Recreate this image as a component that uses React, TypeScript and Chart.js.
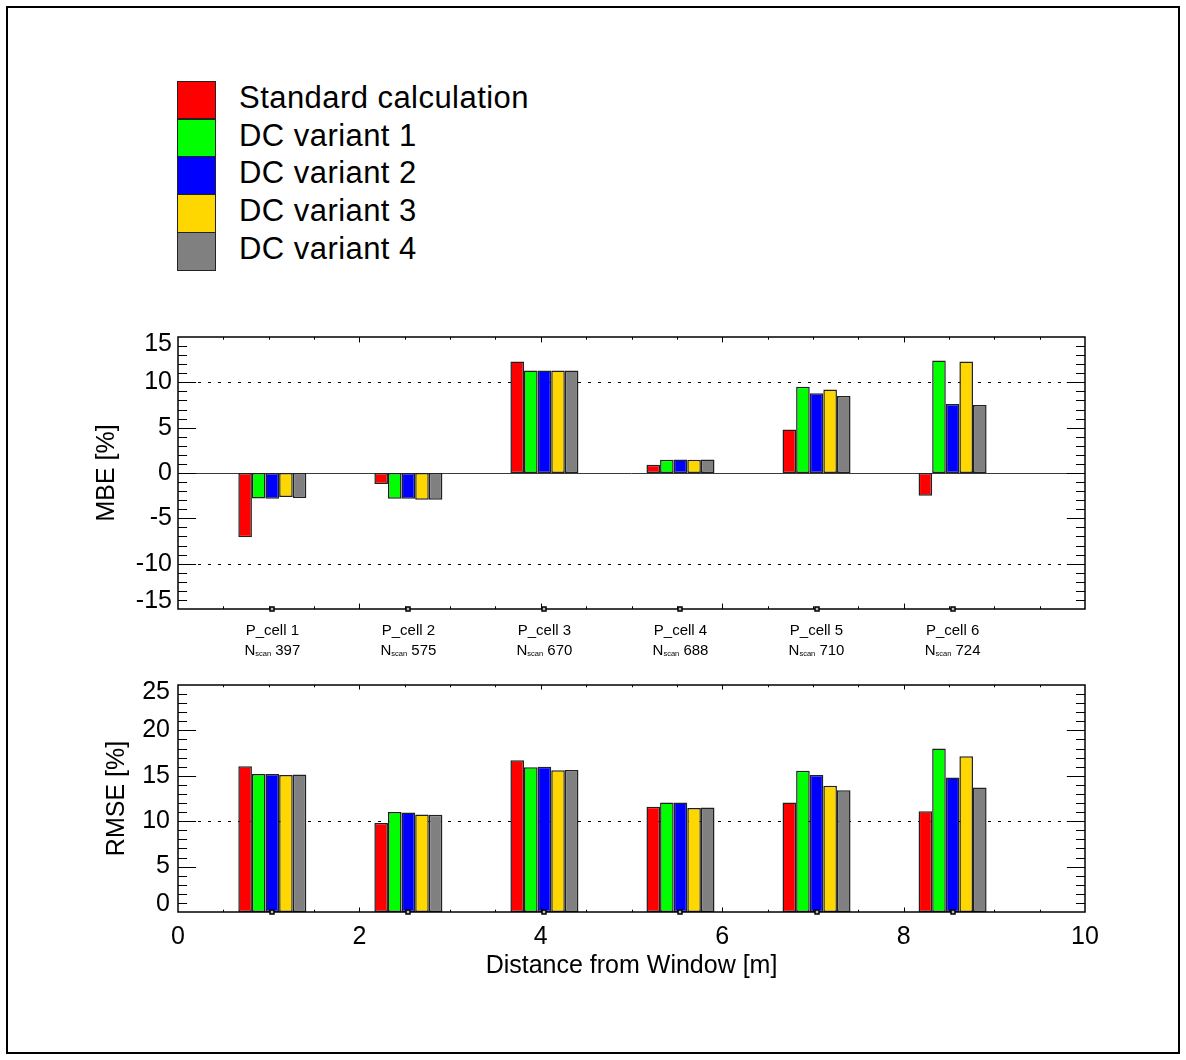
import React, { useEffect, useRef } from 'react';
import { Chart, registerables } from 'chart.js';

Chart.register(...registerables);

const FONT = '"Liberation Sans", Arial, Helvetica, sans-serif';
Chart.defaults.font.family = FONT;
Chart.defaults.color = '#000';

// ---------------- data ----------------
const seriesNames = ['Standard calculation', 'DC variant 1', 'DC variant 2', 'DC variant 3', 'DC variant 4'];
const seriesColors = ['#FF0000', '#00FF00', '#0000FF', '#FFD700', '#808080'];

const cellLabels = ['P_cell 1', 'P_cell 2', 'P_cell 3', 'P_cell 4', 'P_cell 5', 'P_cell 6'];
const scanCounts = [397, 575, 670, 688, 710, 724];
const cellDistances = [1.04, 2.54, 4.04, 5.54, 7.04, 8.54];

const mbeStandard = [-7.1, -1.2, 12.3, 0.9, 4.8, -2.5];
const mbeVariant1 = [-2.8, -2.85, 11.3, 1.45, 9.5, 12.4];
const mbeVariant2 = [-2.85, -2.85, 11.3, 1.5, 8.8, 7.6];
const mbeVariant3 = [-2.65, -2.95, 11.3, 1.45, 9.2, 12.3];
const mbeVariant4 = [-2.75, -2.95, 11.3, 1.5, 8.5, 7.5];

const rmseStandard = [16.05, 9.8, 16.7, 11.6, 12.05, 11.1];
const rmseVariant1 = [15.2, 11.0, 15.95, 12.05, 15.55, 18.0];
const rmseVariant2 = [15.2, 10.95, 16.0, 12.05, 15.1, 14.8];
const rmseVariant3 = [15.1, 10.75, 15.6, 11.45, 13.9, 17.15];
const rmseVariant4 = [15.15, 10.7, 15.65, 11.5, 13.4, 13.7];

const distanceTicks = [0, 2, 4, 6, 8, 10];
const mbeTicks = [-15, -10, -5, 0, 5, 10, 15];
const rmseTicks = [0, 5, 10, 15, 20, 25];
const mbeRefLines = [10, -10];
const rmseRefLines = [10];

// ---------------- helpers ----------------
function buildDatasets(series: number[][]) {
  return series.map((vals, s) => ({
    label: seriesNames[s],
    data: cellDistances.map((d, i) => ({ x: d, y: vals[i] })),
    backgroundColor: seriesColors[s],
    borderColor: '#202020',
    borderWidth: 1.5,
    borderSkipped: false,
    categoryPercentage: 0.5,
    barPercentage: 1,
  }));
}

type FrameOpts = {
  refLines: number[];
  zeroLine: boolean;
  scanRow: boolean;
};

function framePlugin(opts: FrameOpts) {
  return {
    id: 'idlFrame',
    beforeDatasetsDraw(chart: any) {
      const { ctx, chartArea: a, scales } = chart;
      const y = scales.y;
      ctx.save();
      ctx.lineWidth = 1;
      ctx.strokeStyle = '#000';
      ctx.setLineDash([3, 7]);
      opts.refLines.forEach((v) => {
        const py = Math.round(y.getPixelForValue(v)) + 0.5;
        ctx.beginPath();
        ctx.moveTo(a.left, py);
        ctx.lineTo(a.right, py);
        ctx.stroke();
      });
      ctx.setLineDash([]);
      if (opts.zeroLine) {
        const py = Math.round(y.getPixelForValue(0)) + 0.5;
        ctx.strokeStyle = '#3a3a3a';
        ctx.beginPath();
        ctx.moveTo(a.left, py);
        ctx.lineTo(a.right, py);
        ctx.stroke();
      }
      ctx.restore();
    },
    afterDatasetsDraw(chart: any) {
      const { ctx, chartArea: a, scales } = chart;
      const x = scales.x;
      const y = scales.y;
      const w = a.right - a.left;
      const h = a.bottom - a.top;
      ctx.save();
      ctx.strokeStyle = '#000';
      ctx.lineWidth = 1;
      const seg = (x1: number, y1: number, x2: number, y2: number) => {
        ctx.beginPath();
        ctx.moveTo(x1, y1);
        ctx.lineTo(x2, y2);
        ctx.stroke();
      };
      // x ticks: minor every 0.5, major every 2
      const nx = Math.round((x.max - x.min) / 0.5);
      for (let k = 1; k < nx; k++) {
        const v = x.min + k * 0.5;
        const px = Math.round(x.getPixelForValue(v)) + 0.5;
        const len = (k % 4 === 0 ? 0.02 : 0.01) * h;
        seg(px, a.bottom, px, a.bottom - len);
        seg(px, a.top, px, a.top + len);
      }
      // y ticks: minor every 1, major every 5
      const ny = Math.round(y.max - y.min);
      for (let k = 1; k < ny; k++) {
        const v = y.min + k;
        const py = Math.round(y.getPixelForValue(v)) + 0.5;
        const len = (Math.round(v) % 5 === 0 ? 0.02 : 0.01) * w;
        seg(a.left, py, a.left + len, py);
        seg(a.right, py, a.right - len, py);
      }
      // frame
      ctx.lineWidth = 1.5;
      ctx.strokeRect(a.left, a.top, w, h);
      // cell markers
      ctx.lineWidth = 1.5;
      cellDistances.forEach((d) => {
        const px = Math.round(x.getPixelForValue(d));
        ctx.fillStyle = '#bbb';
        ctx.fillRect(px - 2, a.bottom - 2, 4, 4);
        ctx.strokeRect(px - 2, a.bottom - 2, 4, 4);
      });
      // N_scan row
      if (opts.scanRow) {
        ctx.fillStyle = '#000';
        ctx.textAlign = 'left';
        ctx.textBaseline = 'alphabetic';
        const big = `15px ${FONT}`;
        const small = `7.5px ${FONT}`;
        const by = a.bottom + 46;
        cellDistances.forEach((d, i) => {
          const tail = ' ' + scanCounts[i];
          ctx.font = big;
          const wN = ctx.measureText('N').width;
          const wT = ctx.measureText(tail).width;
          ctx.font = small;
          const wS = ctx.measureText('scan').width;
          let sx = x.getPixelForValue(d) - (wN + wS + wT) / 2;
          ctx.font = big;
          ctx.fillText('N', sx, by);
          sx += wN;
          ctx.font = small;
          ctx.fillText('scan', sx, by + 1);
          sx += wS;
          ctx.font = big;
          ctx.fillText(tail, sx, by);
        });
      }
      ctx.restore();
    },
  };
}

type PanelSpec = {
  series: number[][];
  yMin: number;
  yMax: number;
  yTicks: number[];
  yTitle: string;
  yTitlePad: number;
  yTickPad: number;
  refLines: number[];
  zeroLine: boolean;
  isTop: boolean;
  padTop: number;
  xHeight: number;
};

function makeConfig(p: PanelSpec): any {
  const zeroPad = (s: any) => {
    s.paddingTop = 0;
    s.paddingBottom = 0;
    s.paddingLeft = 0;
    s.paddingRight = 0;
  };
  const xAxis: any = p.isTop
    ? {
        type: 'linear',
        min: 0,
        max: 10,
        offset: false,
        grid: { display: false, drawTicks: false },
        border: { display: false },
        afterBuildTicks: (s: any) => {
          s.ticks = cellDistances.map((v) => ({ value: v }));
        },
        ticks: {
          autoSkip: false,
          maxRotation: 0,
          minRotation: 0,
          padding: 13,
          font: { size: 15 },
          color: '#000',
          callback: (_v: any, i: number) => cellLabels[i],
        },
        afterFit: (s: any) => {
          s.height = p.xHeight;
          zeroPad(s);
        },
      }
    : {
        type: 'linear',
        min: 0,
        max: 10,
        offset: false,
        grid: { display: false, drawTicks: false },
        border: { display: false },
        afterBuildTicks: (s: any) => {
          s.ticks = distanceTicks.map((v) => ({ value: v }));
        },
        ticks: {
          autoSkip: false,
          maxRotation: 0,
          minRotation: 0,
          padding: 10,
          font: { size: 25 },
          color: '#000',
          callback: (v: any) => String(v),
        },
        title: {
          display: true,
          text: 'Distance from Window [m]',
          font: { size: 25 },
          color: '#000',
          padding: { top: 0, bottom: 19 },
        },
        afterFit: (s: any) => {
          s.height = p.xHeight;
          zeroPad(s);
        },
      };

  return {
    type: 'bar',
    data: { datasets: buildDatasets(p.series) },
    options: {
      responsive: false,
      maintainAspectRatio: false,
      animation: false,
      events: [],
      layout: { padding: { top: p.padTop, right: 93, left: 0, bottom: 0 } },
      plugins: { legend: { display: false }, tooltip: { enabled: false }, title: { display: false } },
      scales: {
        x: xAxis,
        y: {
          type: 'linear',
          min: p.yMin,
          max: p.yMax,
          grid: { display: false, drawTicks: false },
          border: { display: false },
          afterBuildTicks: (s: any) => {
            s.ticks = p.yTicks.map((v) => ({ value: v }));
          },
          ticks: {
            padding: p.yTickPad,
            font: { size: 25, lineHeight: 0.6 },
            color: '#000',
            callback: (v: any, i: number, arr: any[]) => {
              if (i === 0) return [String(v), ''];
              if (i === arr.length - 1) return ['', String(v)];
              return String(v);
            },
          },
          title: {
            display: true,
            text: p.yTitle,
            font: { size: 25 },
            color: '#000',
            padding: { top: p.yTitlePad, bottom: 0 },
          },
          afterFit: (s: any) => {
            s.width = 170;
            zeroPad(s);
          },
        },
      },
    },
    plugins: [framePlugin({ refLines: p.refLines, zeroLine: p.zeroLine, scanRow: p.isTop })],
  };
}

function ChartCanvas({ top, height, spec }: { top: number; height: number; spec: PanelSpec }) {
  const ref = useRef<HTMLCanvasElement>(null);
  useEffect(() => {
    if (!ref.current) return;
    const chart = new Chart(ref.current, makeConfig(spec));
    return () => chart.destroy();
  }, []);
  return (
    <canvas
      ref={ref}
      width={1170}
      height={height}
      style={{ position: 'absolute', left: 0, top, width: 1170, height, display: 'block' }}
    />
  );
}

const mbeSpec: PanelSpec = {
  series: [mbeStandard, mbeVariant1, mbeVariant2, mbeVariant3, mbeVariant4],
  yMin: -15,
  yMax: 15,
  yTicks: mbeTicks,
  yTitle: 'MBE [%]',
  yTitlePad: 84,
  yTickPad: 6,
  refLines: mbeRefLines,
  zeroLine: true,
  isTop: true,
  padTop: 17,
  xHeight: 61,
};

const rmseSpec: PanelSpec = {
  series: [rmseStandard, rmseVariant1, rmseVariant2, rmseVariant3, rmseVariant4],
  yMin: 0,
  yMax: 25,
  yTicks: rmseTicks,
  yTitle: 'RMSE [%]',
  yTitlePad: 94,
  yTickPad: 8,
  refLines: rmseRefLines,
  zeroLine: false,
  isTop: false,
  padTop: 15,
  xHeight: 88,
};

export default function App() {
  const rowH = 37.8;
  return (
    <div
      style={{
        position: 'absolute',
        left: 6,
        top: 6,
        width: 1174,
        height: 1048,
        border: '2px solid #000',
        boxSizing: 'border-box',
        background: '#fff',
        fontFamily: FONT,
      }}
    >
      {seriesNames.map((name, i) => (
        <React.Fragment key={name}>
          <div
            style={{
              position: 'absolute',
              left: 169,
              top: 72.7 + i * rowH,
              width: 39,
              height: rowH + 1,
              background: seriesColors[i],
              border: '1.5px solid #222',
              boxSizing: 'border-box',
            }}
          />
          <div
            style={{
              position: 'absolute',
              left: 231,
              top: 72.7 + i * rowH - 2,
              height: rowH,
              lineHeight: `${rowH}px`,
              fontSize: 31,
              letterSpacing: 0.45,
              color: '#000',
              whiteSpace: 'nowrap',
            }}
          >
            {name}
          </div>
        </React.Fragment>
      ))}
      <ChartCanvas top={312} height={350} spec={mbeSpec} />
      <ChartCanvas top={662} height={330} spec={rmseSpec} />
    </div>
  );
}
